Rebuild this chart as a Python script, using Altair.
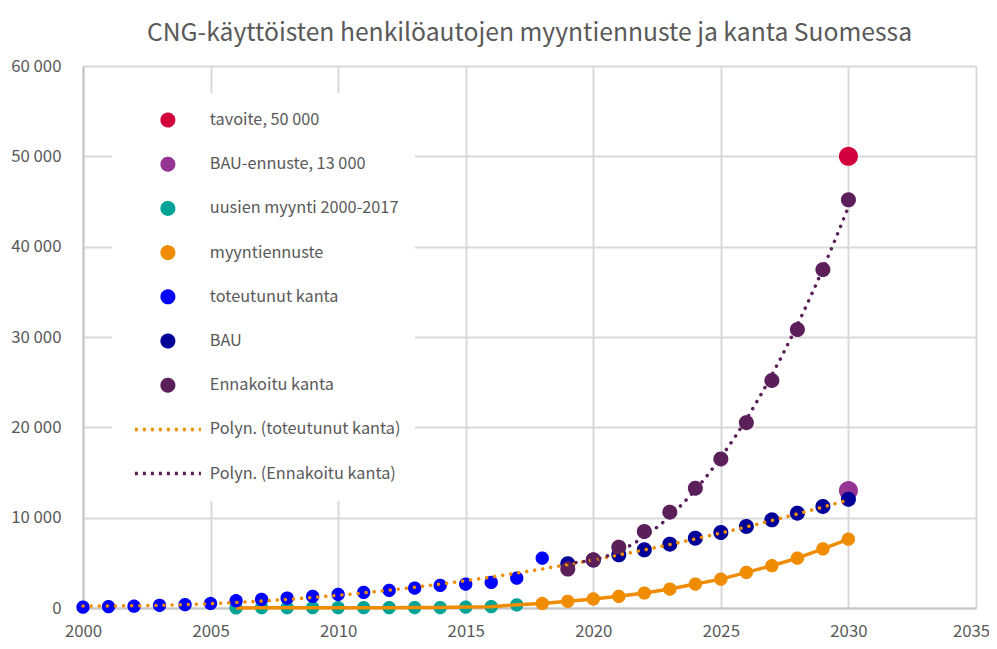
import altair as alt
import pandas as pd

FONT = "Noto Sans CJK JP, Noto Sans, sans-serif"
TEXT = "#595959"

# ---- data ----
years_kanta = list(range(2000, 2019))
toteutunut_kanta = [100, 150, 200, 300, 370, 500, 810, 960, 1100, 1290, 1510, 1730,
                    1950, 2210, 2500, 2650, 2840, 3310, 5520]

years_myynti = list(range(2006, 2018))
uusien_myynti = [10, 30, 30, 40, 30, 40, 40, 50, 50, 100, 150, 350]

years_ennuste = list(range(2018, 2031))
myyntiennuste = [500, 740, 1000, 1290, 1660, 2100, 2650, 3200, 3940, 4680, 5520, 6550, 7620]

years_bau = list(range(2019, 2031))
bau = [4900, 5300, 5890, 6440, 7070, 7730, 8360, 9030, 9760, 10500, 11240, 12040]
ennakoitu_kanta = [4310, 5340, 6740, 8470, 10610, 13260, 16500, 20520, 25190, 30830,
                   37460, 45190]

tavoite_year, tavoite = 2030, 50000
bau_ennuste_year, bau_ennuste = 2030, 13000

names = ["tavoite, 50 000", "BAU-ennuste, 13 000", "uusien myynti 2000-2017",
         "myyntiennuste", "toteutunut kanta", "BAU", "Ennakoitu kanta",
         "Polyn. (toteutunut kanta)", "Polyn. (Ennakoitu kanta)"]
colors = ["#D2003C", "#953493", "#00A396", "#F08C00", "#0000FF", "#000099",
          "#5B1F5A", "#F08C00", "#5B1F5A"]
marker_sizes = [240, 240, 96, 96, 96, 132, 132]
LINE_SYMBOL = "M-5.75,0H5.75"
shapes = ["circle"] * 7 + [LINE_SYMBOL] * 2
dashes = [[1, 0]] * 7 + [[3, 5], [3, 5]]

# ---- tables ----
def rows(series, xs, ys):
    sz = marker_sizes[names.index(series)]
    return [{"year": x, "value": y, "series": series, "sz": sz} for x, y in zip(xs, ys)]

under = pd.DataFrame(
    rows(names[0], [tavoite_year], [tavoite])
    + rows(names[1], [bau_ennuste_year], [bau_ennuste])
    + rows(names[2], years_myynti, uusien_myynti)
)
over = pd.DataFrame(
    rows(names[3], years_ennuste, myyntiennuste)
    + rows(names[4], years_kanta, toteutunut_kanta)
    + rows(names[5], years_bau, bau)
    + rows(names[6], years_bau, ennakoitu_kanta)
)
sales_line = pd.DataFrame({
    "year": years_myynti + years_ennuste,
    "value": uusien_myynti + myyntiennuste,
})
kanta_df = pd.DataFrame({"year": years_kanta, "value": toteutunut_kanta})
ennakoitu_df = pd.DataFrame({"year": years_bau, "value": ennakoitu_kanta})

# ---- encodings ----
x_enc = alt.X("year:Q",
              scale=alt.Scale(domain=[2000, 2035], nice=False, zero=False),
              axis=alt.Axis(values=list(range(2000, 2036, 5)), format="d", title=None,
                            labelPadding=28, labelBaseline="alphabetic", labelFlush=False,
                            labelOffset={"condition": {"test": "datum.value == 2035",
                                                       "value": -5},
                                         "value": 0}))
y_enc = alt.Y("value:Q",
              scale=alt.Scale(domain=[0, 60000], nice=False),
              axis=alt.Axis(values=list(range(0, 60001, 10000)), title=None,
                            labelExpr="replace(format(datum.value, ','), ',', ' ')",
                            labelPadding=22, labelFlush=False))

legend = alt.Legend(title=None, orient="none", legendX=29, legendY=27,
                    fillColor="white", padding=14, rowPadding=18.2, clipHeight=26,
                    labelOffset=33.75, symbolOffset=33.75,
                    labelFontSize=16.3, labelFont=FONT, labelColor=TEXT, labelLimit=400,
                    symbolSize=132, symbolStrokeWidth=3.5, symbolOpacity=1)

def point_layer(df):
    return alt.Chart(df).mark_point(filled=True, opacity=1, strokeWidth=3.5).encode(
        x=x_enc, y=y_enc,
        fill=alt.Fill("series:N", scale=alt.Scale(domain=names, range=colors), legend=legend),
        stroke=alt.Stroke("series:N", scale=alt.Scale(domain=names, range=colors), legend=legend),
        shape=alt.Shape("series:N", scale=alt.Scale(domain=names, range=shapes), legend=legend),
        strokeDash=alt.StrokeDash("series:N", scale=alt.Scale(domain=names, range=dashes),
                                  legend=legend),
        size=alt.Size("sz:Q", scale=None, legend=None),
    )

sales = alt.Chart(sales_line).mark_line(color="#F08C00", strokeWidth=3.5).encode(x=x_enc, y=y_enc)

trend_kanta = alt.Chart(kanta_df).transform_regression(
    "year", "value", method="poly", order=2, extent=[2000, 2030]
).mark_line(color="#F08C00", strokeWidth=3.5, strokeDash=[0.1, 8], strokeCap="round").encode(
    x=x_enc, y=y_enc)

trend_ennakoitu = alt.Chart(ennakoitu_df).transform_regression(
    "year", "value", method="poly", order=2, extent=[2019, 2030]
).mark_line(color="#5B1F5A", strokeWidth=3.5, strokeDash=[0.1, 8], strokeCap="round").encode(
    x=x_enc, y=y_enc)

chart = alt.layer(
    point_layer(under), sales, point_layer(over), trend_kanta, trend_ennakoitu
).properties(
    width=893, height=542,
    padding={"left": 75, "top": 58, "right": 13, "bottom": 33},
    autosize=alt.AutoSizeParams(type="none"),
    title=alt.Title("CNG-käyttöisten henkilöautojen myyntiennuste ja kanta Suomessa",
                    font=FONT, fontSize=24.7, fontWeight="normal", color=TEXT,
                    frame="group", anchor="middle", offset=12),
).configure_view(stroke=None).configure_axis(
    grid=True, gridColor="#d9d9d9", gridWidth=2,
    domainColor="#c6c6c6", domainWidth=2, ticks=False,
    labelFont=FONT, labelFontSize=16.8, labelColor=TEXT,
)

chart.save("out.html", embed_options={"renderer": "svg", "actions": False})
